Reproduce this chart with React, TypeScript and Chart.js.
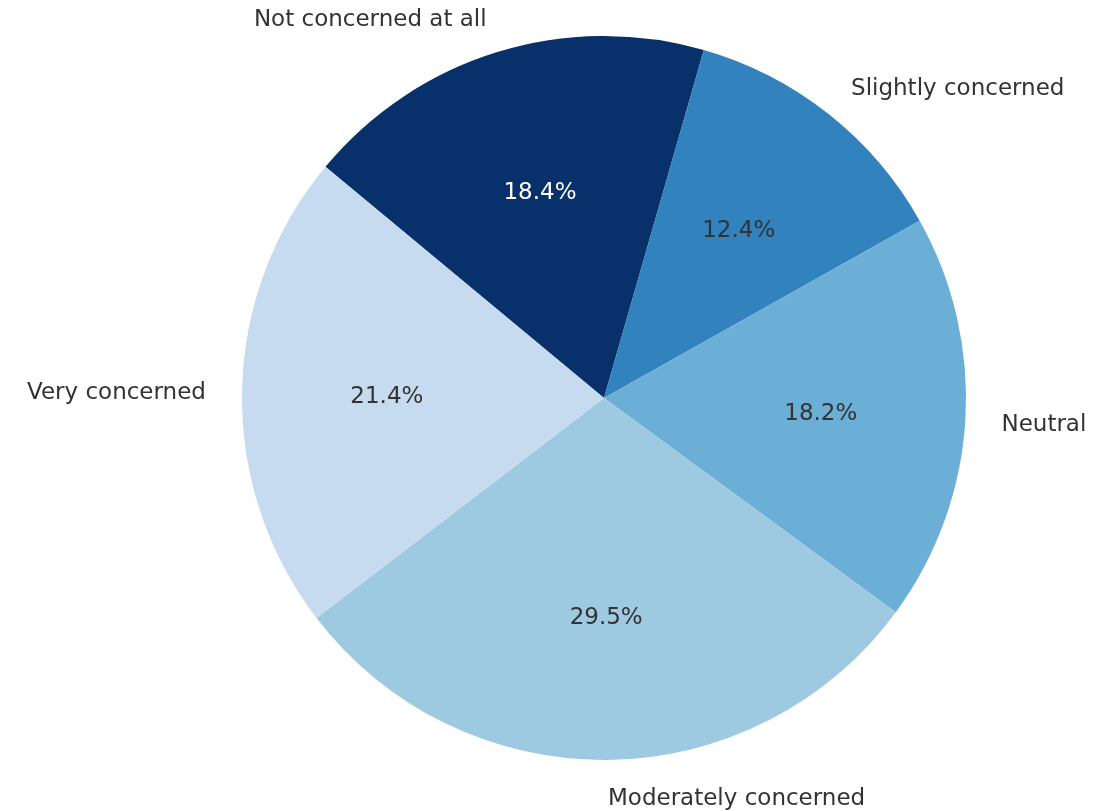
import React, { useEffect, useRef } from "react";
import { Chart, registerables } from "chart.js";

Chart.register(...registerables);

const categories = [
  "Not concerned at all",
  "Slightly concerned",
  "Neutral",
  "Moderately concerned",
  "Very concerned",
];
const shares = [18.4, 12.4, 18.2, 29.5, 21.4];
const sliceColors = ["#08306b", "#3282bd", "#6baed6", "#9ecae1", "#c6dbef"];
const pctTextColors = ["#ffffff", "#333333", "#333333", "#333333", "#333333"];

const FONT = "'DejaVu Sans', sans-serif";
const TEXT_DY = 3;

const pieLabels = {
  id: "pieLabels",
  afterDatasetsDraw(chart: any) {
    const ctx = chart.ctx;
    const meta = chart.getDatasetMeta(0);
    const data = chart.data.datasets[0].data as number[];
    const total = data.reduce((a, b) => a + b, 0);
    ctx.save();
    ctx.font = `23px ${FONT}`;
    meta.data.forEach((arc: any, i: number) => {
      const { x, y, startAngle, endAngle, outerRadius } = arc.getProps(
        ["x", "y", "startAngle", "endAngle", "outerRadius"],
        true
      );
      const mid = (startAngle + endAngle) / 2;
      const c = Math.cos(mid);
      const s = Math.sin(mid);
      // outer category label
      ctx.fillStyle = "#333333";
      ctx.textBaseline = "middle";
      ctx.textAlign = c > 0 ? "left" : "right";
      ctx.fillText(
        chart.data.labels[i],
        x + c * outerRadius * 1.1,
        y + s * outerRadius * 1.1 + TEXT_DY
      );
      // percentage
      ctx.fillStyle = pctTextColors[i];
      ctx.textAlign = "center";
      const pct = ((data[i] / total) * 100).toFixed(1) + "%";
      ctx.fillText(pct, x + c * outerRadius * 0.6, y + s * outerRadius * 0.6 + TEXT_DY);
    });
    ctx.restore();
  },
};

export default function App() {
  const ref = useRef<HTMLCanvasElement | null>(null);
  useEffect(() => {
    if (!ref.current) return;
    const chart = new Chart(ref.current, {
      type: "pie",
      data: {
        labels: categories,
        datasets: [
          {
            data: shares,
            backgroundColor: sliceColors,
            borderWidth: 0,
            hoverOffset: 0,
            offset: 0,
          },
        ],
      },
      options: {
        responsive: false,
        animation: false,
        rotation: -50.3,
        layout: { padding: { left: 242, right: 148, top: 36, bottom: 51 } },
        plugins: {
          legend: { display: false },
          tooltip: { enabled: false },
        },
      },
      plugins: [pieLabels],
    });
    return () => chart.destroy();
  }, []);
  return (
    <div style={{ position: "absolute", left: 0, top: 0, width: 1114, height: 811, background: "#ffffff" }}>
      <canvas ref={ref} width={1114} height={811} style={{ width: 1114, height: 811 }} />
    </div>
  );
}
